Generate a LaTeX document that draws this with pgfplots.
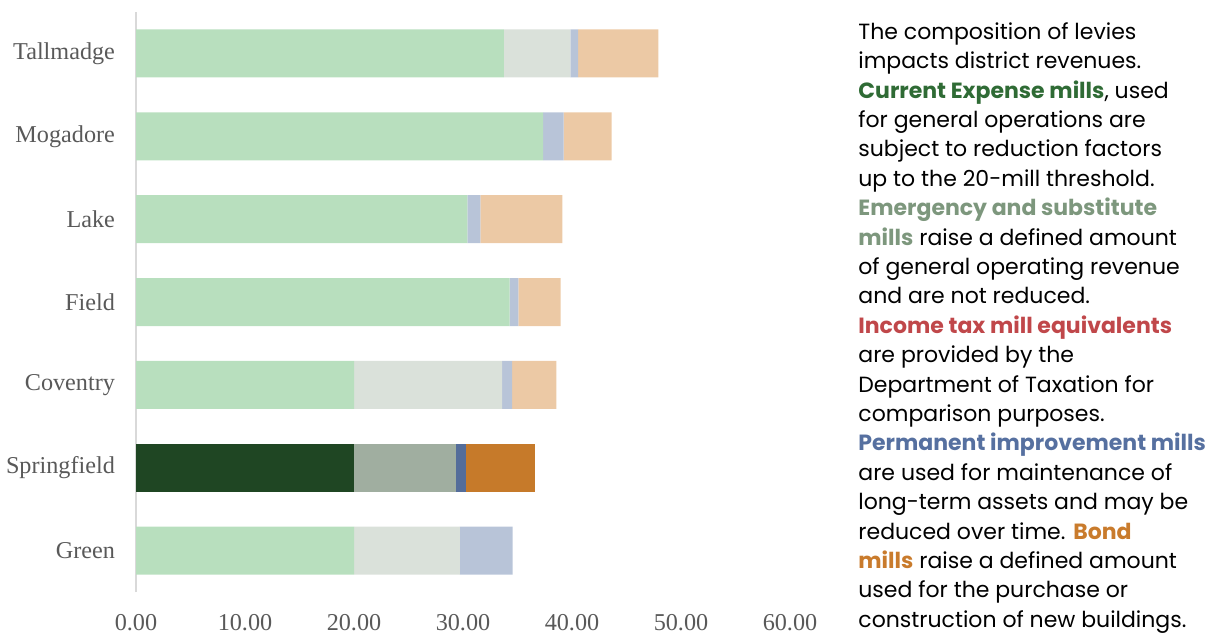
\documentclass[border=0pt]{standalone}
\usepackage{fontspec}
\setmainfont{Liberation Serif}
\newfontfamily\notefont{Poppins}
\usepackage{pgfplots}
\pgfplotsset{compat=1.18}
\definecolor{ceL}{HTML}{B8DFBE}
\definecolor{emL}{HTML}{DAE1DA}
\definecolor{piL}{HTML}{B8C4D8}
\definecolor{bdL}{HTML}{ECC9A5}
\definecolor{ceD}{HTML}{1F4623}
\definecolor{emD}{HTML}{A0AEA0}
\definecolor{piD}{HTML}{546D9A}
\definecolor{bdD}{HTML}{C67A2A}
\definecolor{tCE}{HTML}{2F6B35}
\definecolor{tEM}{HTML}{7D977D}
\definecolor{tIT}{HTML}{C0474A}
\definecolor{tPI}{HTML}{5670A0}
\definecolor{tBD}{HTML}{C97B2C}
\definecolor{lab}{HTML}{595959}
\begin{document}
\begin{tikzpicture}
\path[use as bounding box] (0,0) rectangle (604.5pt,317pt);
\begin{axis}[
  at={(68pt,21pt)}, anchor=south west,
  scale only axis, width=327pt, height=290pt,
  xbar stacked, bar width=24pt,
  xmin=0, xmax=60,
  ymin=-0.5, ymax=6.5,
  xtick={0,10,...,60},
  ytick={0,...,6},
  yticklabels={Green,Springfield,Coventry,Field,Lake,Mogadore,Tallmadge},
  axis y line*=left, axis x line*=bottom,
  x axis line style={draw=none},
  y axis line style={draw=black!15, line width=0.8pt, -},
  tick style={draw=none},
  ticklabel style={font=\fontsize{12.1}{13}\selectfont, text=lab},
  /pgf/number format/assume math mode=true,
  xticklabel={\pgfmathprintnumber[fixed, fixed zerofill, precision=2]{\tick}},
  xticklabel style={yshift=-7.5pt},
  yticklabel style={xshift=-7pt},
  every axis plot/.append style={draw=none},
]
% current expense
\addplot[fill=ceL] coordinates {(20,0) (0,1) (20,2) (34.27,3) (30.39,4) (37.34,5) (33.75,6)};
\addplot[fill=ceD] coordinates {(0,0) (20,1) (0,2) (0,3) (0,4) (0,5) (0,6)};
% emergency and substitute
\addplot[fill=emL] coordinates {(9.72,0) (0,1) (13.59,2) (0,3) (0,4) (0,5) (6.11,6)};
\addplot[fill=emD] coordinates {(0,0) (9.36,1) (0,2) (0,3) (0,4) (0,5) (0,6)};
% permanent improvement
\addplot[fill=piL] coordinates {(4.84,0) (0,1) (0.91,2) (0.81,3) (1.20,4) (1.90,5) (0.71,6)};
\addplot[fill=piD] coordinates {(0,0) (0.90,1) (0,2) (0,3) (0,4) (0,5) (0,6)};
% bond
\addplot[fill=bdL] coordinates {(0,0) (0,1) (4.07,2) (3.87,3) (7.53,4) (4.40,5) (7.36,6)};
\addplot[fill=bdD] coordinates {(0,0) (6.37,1) (0,2) (0,3) (0,4) (0,5) (0,6)};
\end{axis}
\node[anchor=north west, inner sep=0pt, align=left,
      font=\notefont\fontsize{11}{14.7}\selectfont] at (429pt,306pt) {%
The composition of levies\\
impacts district revenues.\\
\textcolor{tCE}{\bfseries Current Expense mills}, used\\
for general operations are\\
subject to reduction factors\\
up to the 20-mill threshold.\\
\textcolor{tEM}{\bfseries Emergency and substitute}\\
\textcolor{tEM}{\bfseries mills} raise a defined amount\\
of general operating revenue\\
and are not reduced.\\
\textcolor{tIT}{\bfseries Income tax mill equivalents}\\
are provided by the\\
Department of Taxation for\\
comparison purposes.\\
\textcolor{tPI}{\bfseries Permanent improvement mills}\\
are used for maintenance of\\
long-term assets and may be\\
reduced over time. \textcolor{tBD}{\bfseries Bond}\\
\textcolor{tBD}{\bfseries mills} raise a defined amount\\
used for the purchase or\\
construction of new buildings.};
\end{tikzpicture}
\end{document}
